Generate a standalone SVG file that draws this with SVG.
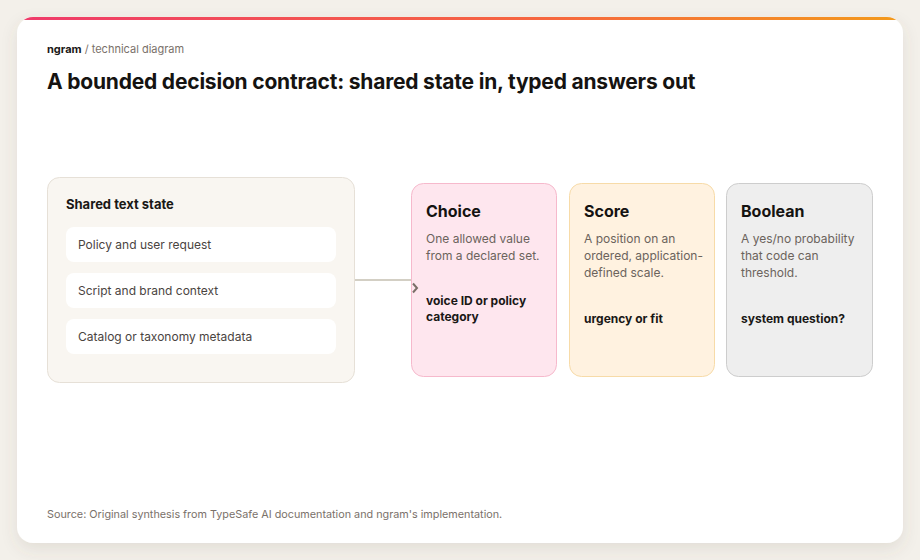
<svg xmlns="http://www.w3.org/2000/svg" width="920" height="560" viewBox="0 0 920 560">
<defs>
<linearGradient id="bar" x1="0" y1="0" x2="1" y2="0">
<stop offset="0" stop-color="#ef3a6b"/>
<stop offset="0.6" stop-color="#f6673f"/>
<stop offset="1" stop-color="#f39a1c"/>
</linearGradient>
<clipPath id="cardclip"><rect x="17" y="17" width="886" height="526" rx="16"/></clipPath>
<filter id="sh" x="-10%" y="-10%" width="120%" height="130%">
<feDropShadow dx="0" dy="6" stdDeviation="8" flood-color="#6b5a40" flood-opacity="0.12"/>
</filter>
</defs>
<style>
text{font-family:Inter,"Noto Sans","Liberation Sans",sans-serif;}
.kick{font-size:11px;fill:#7a716a;}
.kickb{font-weight:700;fill:#1a1816;}
.title{font-size:21px;font-weight:700;fill:#151311;letter-spacing:-0.2px;}
.ghead{font-size:13px;font-weight:700;fill:#1a1816;}
.item{font-size:12px;fill:#4a443f;}
.ctitle{font-size:16px;font-weight:700;fill:#151311;}
.desc{font-size:12px;fill:#6b635c;}
.ex{font-size:12px;font-weight:700;fill:#1a1816;}
.src{font-size:10.8px;fill:#7a716a;}
.pill{fill:#ffffff;}
</style>
<rect width="920" height="560" fill="#f3f0ea"/>
<rect x="17" y="17" width="886" height="526" rx="16" fill="#ffffff" filter="url(#sh)"/>
<rect x="17" y="17" width="886" height="3" fill="url(#bar)" clip-path="url(#cardclip)"/>

<text x="47" y="53" class="kick"><tspan class="kickb">ngram</tspan> / technical diagram</text>
<text x="47" y="89" class="title">A bounded decision contract: shared state in, typed answers out</text>

<g id="shared-state">
<rect x="47.5" y="177.5" width="307" height="205" rx="12" fill="#f9f6f1" stroke="#e6e0d7"/>
<text x="66" y="209" class="ghead">Shared text state</text>
<rect x="66" y="227" width="270" height="35" rx="8" class="pill"/>
<text x="78" y="249" class="item">Policy and user request</text>
<rect x="66" y="273" width="270" height="35" rx="8" class="pill"/>
<text x="78" y="295" class="item">Script and brand context</text>
<rect x="66" y="319" width="270" height="35" rx="8" class="pill"/>
<text x="78" y="341" class="item">Catalog or taxonomy metadata</text>
</g>

<g id="choice">
<rect x="411.5" y="183.5" width="145" height="193" rx="12" fill="#fee6ee" stroke="#f6b9cc"/>
<text x="426" y="217" class="ctitle">Choice</text>
<text x="426" y="243" class="desc">One allowed value</text>
<text x="426" y="260" class="desc">from a declared set.</text>
<text x="426" y="305" class="ex">voice ID or policy</text>
<text x="426" y="321" class="ex">category</text>
</g>

<g id="score">
<rect x="569.5" y="183.5" width="145" height="193" rx="12" fill="#fff2e0" stroke="#f7dba8"/>
<text x="584" y="217" class="ctitle">Score</text>
<text x="584" y="243" class="desc">A position on an</text>
<text x="584" y="260" class="desc">ordered, application-</text>
<text x="584" y="277" class="desc">defined scale.</text>
<text x="584" y="323" class="ex">urgency or fit</text>
</g>

<g id="boolean">
<rect x="726.5" y="183.5" width="146" height="193" rx="12" fill="#eeeeee" stroke="#cdcdcd"/>
<text x="741" y="217" class="ctitle">Boolean</text>
<text x="741" y="243" class="desc">A yes/no probability</text>
<text x="741" y="260" class="desc">that code can</text>
<text x="741" y="277" class="desc">threshold.</text>
<text x="741" y="323" class="ex">system question?</text>
</g>

<g id="connectors">
<line x1="355" y1="280" x2="411" y2="280" stroke="#c4bfb1" stroke-width="1.5"/>
<path d="M413 283.5 L417 288 L413 292.5" fill="none" stroke="#7a6f68" stroke-width="2"/>
</g>

<text x="47" y="518" class="src">Source: Original synthesis from TypeSafe AI documentation and ngram's implementation.</text>
</svg>
